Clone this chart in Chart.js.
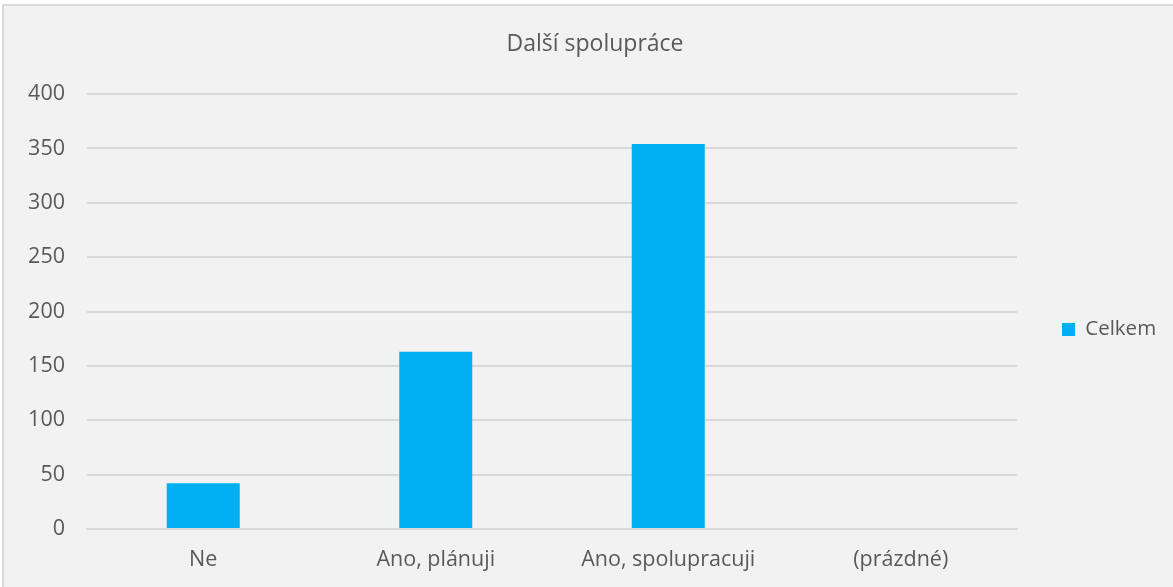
<!DOCTYPE html>
<html>
<head>
<meta charset="utf-8">
<script src="https://cdn.jsdelivr.net/npm/chart.js@4/dist/chart.umd.min.js"></script>
<style>
  html, body { margin: 0; padding: 0; background: #fff; overflow: hidden; }
  #frame {
    position: absolute; left: 2px; top: 4px;
    width: 1230px; height: 600px;
    background: #f2f2f2;
    border: 2px solid #d9d9d9;
  }
  #box { position: absolute; left: 0; top: 0; width: 1182px; height: 581px; }
</style>
</head>
<body>
<div id="frame">
  <div id="box"><canvas id="chart"></canvas></div>
</div>
<script>
// Data
const categories = ['Ne', 'Ano, plánuji', 'Ano, spolupracuji', '(prázdné)'];
const totals = [42, 163, 354, 0];
const seriesName = 'Celkem';
const chartTitle = 'Další spolupráce';

const TEXT = '#595959';
const GRID = '#d9d9d9';
const BAR = '#00b0f0';
const FONT = "'Open Sans', 'Noto Sans', sans-serif";

// plot area ends at x=1013, legend fills the rest of the row
const PLOT_RIGHT = 1013;
// legend sits a little below the vertical middle
const LEGEND_DROP = 33;

const legendPlacement = {
  id: 'legendPlacement',
  beforeLayout(chart) {
    const lg = chart.legend;
    if (!lg || lg._widthFixed) return;
    const fit = lg.fit;
    lg.fit = function () {
      fit.call(this);
      this.width = chart.width - PLOT_RIGHT;
    };
    lg._widthFixed = true;
  },
  afterLayout(chart) {
    if (chart.legend) chart.legend.top += LEGEND_DROP * 2;
  },
};

const ctx = document.getElementById('chart').getContext('2d');

new Chart(ctx, {
  type: 'bar',
  data: {
    labels: categories,
    datasets: [{
      label: seriesName,
      data: totals,
      backgroundColor: BAR,
      borderWidth: 0,
      barPercentage: 0.314,
      categoryPercentage: 1,
    }],
  },
  plugins: [legendPlacement],
  options: {
    responsive: true,
    maintainAspectRatio: false,
    animation: false,
    layout: { padding: 0 },
    plugins: {
      title: {
        display: true,
        text: chartTitle,
        color: TEXT,
        font: { family: FONT, size: 23, weight: 'normal' },
        padding: { top: 25, bottom: 35.4 },
      },
      legend: {
        position: 'right',
        labels: {
          color: TEXT,
          font: { family: FONT, size: 20.5 },
          boxWidth: 13,
          boxHeight: 13,
          padding: 45,
        },
      },
      tooltip: { enabled: false },
    },
    scales: {
      x: {
        grid: { display: false, drawTicks: false },
        border: { display: true, color: GRID, width: 2 },
        ticks: { color: TEXT, font: { family: FONT, size: 21.5 }, padding: 18 },
        afterFit: (s) => { s.height = 58; },
      },
      y: {
        min: 0,
        max: 400,
        grid: { color: GRID, lineWidth: 2, drawTicks: false },
        border: { display: false },
        ticks: { stepSize: 50, color: TEXT, font: { family: FONT, size: 21.5 }, padding: 22 },
        afterFit: (s) => { s.width = 83; },
      },
    },
  },
});
</script>
</body>
</html>
